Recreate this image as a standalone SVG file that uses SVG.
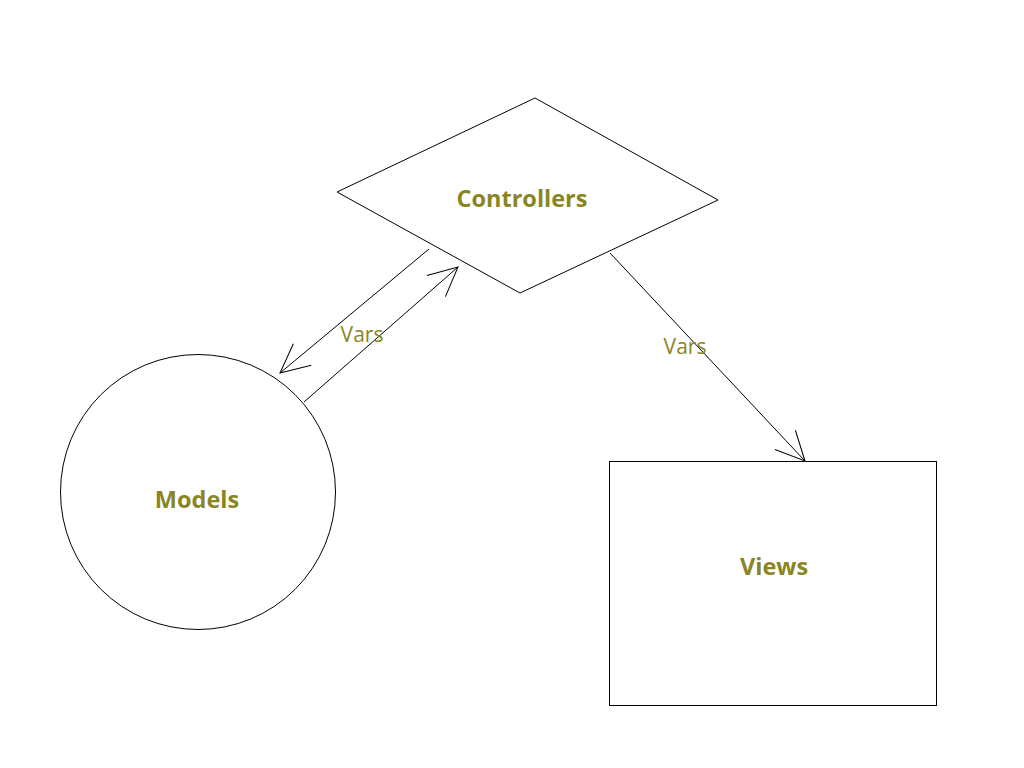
<svg xmlns="http://www.w3.org/2000/svg" width="1024" height="768" viewBox="0 0 1024 768">
<style>
.shape{fill:#fff;stroke:#000;stroke-width:1}
.lbl{font-family:"Open Sans","Noto Sans",sans-serif;font-weight:bold;font-size:23.5px;fill:#8a8524;text-anchor:middle;dominant-baseline:central}
.edge{fill:none;stroke:#000;stroke-width:1}
.elbl{font-family:"Open Sans","Noto Sans",sans-serif;font-size:21px;fill:#8a8524;text-anchor:middle;dominant-baseline:central}
</style>
<defs>
<marker id="arr" markerUnits="userSpaceOnUse" markerWidth="40" markerHeight="40" viewBox="-32 -20 40 40" refX="0" refY="0" orient="auto" overflow="visible">
<path d="M-29,-14 L0,0 L-29,14" fill="none" stroke="#000" stroke-width="1"/>
</marker>
</defs>
<rect width="1024" height="768" fill="#fff"/>
<g id="connectors">
<line class="edge" x1="429" y1="249" x2="280" y2="373" marker-end="url(#arr)"/>
<line class="edge" x1="304" y1="402" x2="458" y2="267" marker-end="url(#arr)"/>
<line class="edge" x1="610" y1="253" x2="805" y2="461" marker-end="url(#arr)"/>
<text class="elbl" x="362" y="334">Vars</text>
<text class="elbl" x="685" y="346">Vars</text>
</g>
<g id="controllers">
<polygon class="shape" points="535,98 718,200 520,293 337,192"/>
<text class="lbl" x="522" y="198">Controllers</text>
</g>
<g id="models">
<circle class="shape" cx="198" cy="492" r="137.5"/>
<text class="lbl" x="197" y="499">Models</text>
</g>
<g id="views">
<rect class="shape" x="609.5" y="461.5" width="327" height="244"/>
<text class="lbl" x="774" y="566">Views</text>
</g>
</svg>
